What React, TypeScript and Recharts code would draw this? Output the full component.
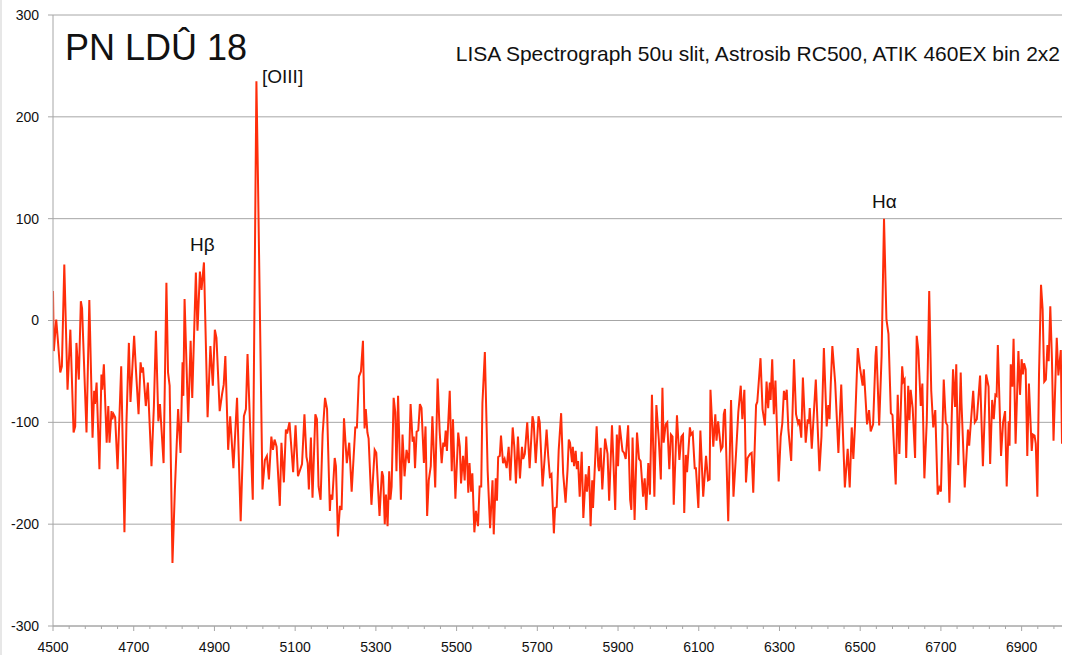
import React from "react";
import { LineChart, Line, XAxis, YAxis, CartesianGrid } from "recharts";

// wavelength (Angstrom) and relative flux
const wavelengths = [
  4500, 4502, 4508, 4512, 4518, 4522, 4528, 4536, 4543, 4551, 4555, 4558, 4564, 4569, 4572, 4583,
  4590, 4598, 4602, 4604, 4608, 4615, 4620, 4622, 4626, 4633, 4637, 4640, 4645, 4647, 4650, 4654,
  4660, 4669, 4677, 4682, 4688, 4692, 4696, 4701, 4705, 4712, 4717, 4720, 4723, 4730, 4735, 4744,
  4750, 4755, 4761, 4765, 4774, 4781, 4785, 4789, 4796, 4802, 4810, 4816, 4821, 4823, 4826, 4835,
  4841, 4845, 4854, 4858, 4864, 4868, 4874, 4883, 4890, 4896, 4901, 4905, 4913, 4919, 4923, 4927,
  4934, 4939, 4947, 4956, 4965, 4973, 4978, 4982, 4988, 4995, 5004, 5008, 5019, 5025, 5030, 5035,
  5041, 5045, 5049, 5054, 5062, 5066, 5072, 5077, 5080, 5086, 5095, 5101, 5107, 5117, 5123, 5128,
  5131, 5134, 5139, 5143, 5150, 5154, 5158, 5163, 5168, 5174, 5179, 5186, 5188, 5192, 5198, 5201,
  5206, 5211, 5215, 5221, 5228, 5234, 5240, 5249, 5253, 5258, 5263, 5268, 5272, 5275, 5279, 5282,
  5289, 5297, 5301, 5309, 5315, 5318, 5322, 5325, 5329, 5333, 5336, 5339, 5344, 5348, 5351, 5355,
  5362, 5366, 5371, 5376, 5382, 5386, 5391, 5394, 5397, 5401, 5405, 5409, 5413, 5419, 5423, 5427,
  5431, 5436, 5440, 5447, 5453, 5458, 5463, 5467, 5470, 5473, 5476, 5483, 5488, 5491, 5497, 5504,
  5508, 5511, 5516, 5520, 5524, 5529, 5532, 5536, 5539, 5544, 5548, 5553, 5557, 5561, 5564, 5570,
  5577, 5583, 5589, 5592, 5597, 5600, 5603, 5607, 5610, 5615, 5619, 5624, 5629, 5633, 5639, 5643,
  5647, 5652, 5657, 5662, 5665, 5669, 5675, 5681, 5688, 5691, 5696, 5703, 5706, 5713, 5718, 5723,
  5727, 5731, 5735, 5741, 5744, 5748, 5753, 5759, 5764, 5770, 5775, 5778, 5781, 5786, 5788, 5791,
  5795, 5798, 5801, 5805, 5810, 5814, 5820, 5823, 5828, 5832, 5836, 5838, 5847, 5851, 5853, 5857,
  5861, 5868, 5874, 5878, 5885, 5888, 5893, 5897, 5900, 5904, 5911, 5915, 5919, 5925, 5930, 5933,
  5936, 5941, 5947, 5952, 5956, 5962, 5966, 5970, 5975, 5979, 5984, 5990, 5995, 6001, 6006, 6010,
  6013, 6018, 6022, 6027, 6031, 6035, 6038, 6046, 6052, 6057, 6061, 6064, 6068, 6071, 6078, 6081,
  6085, 6090, 6093, 6099, 6104, 6111, 6118, 6123, 6127, 6129, 6136, 6141, 6144, 6148, 6155, 6159,
  6162, 6165, 6173, 6180, 6186, 6192, 6198, 6204, 6208, 6213, 6217, 6221, 6227, 6231, 6235, 6242,
  6245, 6253, 6258, 6264, 6268, 6272, 6276, 6278, 6282, 6286, 6290, 6298, 6303, 6307, 6311, 6314,
  6318, 6322, 6329, 6336, 6341, 6346, 6349, 6354, 6358, 6365, 6370, 6373, 6375, 6380, 6390, 6399,
  6404, 6410, 6417, 6421, 6424, 6427, 6431, 6438, 6446, 6453, 6462, 6469, 6474, 6479, 6483, 6487,
  6494, 6499, 6506, 6509, 6517, 6522, 6526, 6532, 6538, 6540, 6547, 6553, 6559, 6565, 6570, 6576,
  6580, 6588, 6593, 6597, 6604, 6607, 6610, 6614, 6619, 6622, 6625, 6630, 6636, 6640, 6644, 6650,
  6654, 6659, 6665, 6671, 6676, 6681, 6686, 6692, 6696, 6700, 6707, 6712, 6716, 6721, 6730, 6735,
  6738, 6743, 6749, 6751, 6759, 6767, 6770, 6780, 6784, 6789, 6797, 6804, 6812, 6818, 6822, 6827,
  6831, 6835, 6838, 6841, 6849, 6854, 6859, 6863, 6868, 6870, 6873, 6877, 6880, 6885, 6892, 6896,
  6900, 6903, 6906, 6910, 6914, 6918, 6925, 6928, 6932, 6935, 6939, 6943, 6948, 6952, 6956, 6960,
  6964, 6967, 6971, 6975, 6979, 6987, 6991, 6997, 7000,
];

const flux = [
  29, -30, 1, -19, -51, -45, 55, -68, -9, -110, -104, -22, -58, 19, 12, -110,
  20, -115, -69, -82, -61, -146, -53, -68, -43, -120, -84, -120, -89, -97, -92, -95,
  -146, -45, -208, -100, -22, -80, -51, -15, -45, -92, -41, -51, -46, -84, -61, -143,
  -84, -10, -99, -82, -140, 37, -51, -64, -238, -166, -87, -130, -41, -74, 21, -100,
  -20, -76, 47, -10, 48, 30, 57, -95, -25, -64, -9, -17, -89, -72, -63, -35,
  -127, -94, -145, -76, -197, -94, -87, -33, -100, -176, 235, 135, -166, -137, -133, -156,
  -114, -127, -117, -124, -182, -120, -159, -107, -111, -100, -149, -103, -153, -141, -92, -134,
  -140, -166, -115, -174, -92, -97, -163, -176, -112, -76, -87, -187, -171, -176, -135, -143,
  -212, -182, -186, -96, -140, -120, -168, -105, -105, -55, -50, -20, -106, -87, -110, -116,
  -181, -127, -130, -192, -148, -153, -200, -171, -202, -148, -176, -163, -76, -90, -148, -74,
  -176, -112, -153, -127, -140, -82, -119, -114, -145, -109, -108, -82, -86, -140, -104, -192,
  -157, -143, -94, -164, -57, -109, -140, -120, -124, -108, -128, -69, -148, -97, -175, -110,
  -124, -160, -133, -157, -114, -169, -140, -168, -150, -208, -187, -202, -163, -163, -81, -31,
  -148, -204, -157, -210, -155, -177, -134, -133, -113, -140, -136, -145, -124, -157, -105, -124,
  -160, -114, -155, -124, -136, -131, -100, -145, -94, -100, -140, -94, -100, -163, -136, -107,
  -133, -153, -151, -209, -184, -183, -127, -91, -150, -179, -146, -117, -120, -139, -124, -143,
  -128, -146, -138, -173, -129, -194, -151, -168, -143, -202, -157, -184, -104, -143, -148, -125,
  -166, -116, -131, -177, -103, -133, -186, -112, -143, -103, -128, -130, -136, -103, -176, -186,
  -115, -196, -110, -136, -138, -173, -155, -186, -140, -171, -73, -173, -83, -117, -156, -66,
  -120, -102, -100, -146, -112, -114, -181, -93, -137, -114, -112, -189, -132, -149, -105, -112,
  -110, -145, -145, -184, -108, -173, -133, -157, -156, -68, -124, -92, -118, -99, -127, -124,
  -92, -87, -197, -78, -173, -133, -90, -64, -97, -68, -159, -135, -131, -130, -169, -83,
  -80, -37, -87, -103, -60, -86, -61, -78, -38, -92, -59, -158, -114, -101, -69, -78,
  -68, -107, -138, -38, -92, -101, -97, -115, -56, -120, -97, -101, -86, -126, -58, -148,
  -114, -27, -104, -83, -97, -63, -25, -61, -130, -63, -164, -126, -164, -105, -136, -104,
  -27, -45, -64, -48, -102, -88, -109, -102, -35, -25, -103, -35, 100, 1, -13, -91,
  -93, -161, -73, -131, -45, -60, -58, -135, -64, -98, -68, -86, -135, -15, -29, -84,
  -62, -155, -98, 29, -69, -105, -88, -171, -164, -168, -58, -100, -103, -179, -48, -85,
  -43, -142, -51, -81, -164, -107, -123, -69, -100, -97, -54, -143, -53, -65, -141, -78,
  -97, -73, -74, -24, -133, -100, -89, -163, -99, -123, -43, -65, -18, -121, -30, -73,
  -38, -53, -42, -48, -133, -62, -128, -112, -113, -121, -173, -54, 35, 11, -60, -58,
  -24, -40, 14, -37, -118, -17, -54, -29, -121,
];

const yTicks = [-300, -200, -100, 0, 100, 200, 300];
const majorXTicks = [4500, 4700, 4900, 5100, 5300, 5500, 5700, 5900, 6100, 6300, 6500, 6700, 6900];
const minorStep = 40;
const xTicks = Array.from({ length: 63 }, (_, i) => 4500 + i * minorStep);

const data = wavelengths.map((w, i) => ({ w, f: flux[i] }));

const GREY = "#a6a6a6";
const FONT = "'Liberation Sans', Arial, sans-serif";

const XTick = (props: any) => {
  const { x, y, payload } = props;
  const isMajor = majorXTicks.includes(payload.value);
  return (
    <g>
      <line x1={x} x2={x} y1={y} y2={y + (isMajor ? 5 : 3)} stroke={GREY} />
      {isMajor && (
        <text x={x} y={y + 26} textAnchor="middle" fontSize={14} fill="#111" fontFamily={FONT}>
          {payload.value}
        </text>
      )}
    </g>
  );
};

export default function App() {
  return (
    <div style={{ position: "relative", width: 1074, height: 655, background: "#fff" }}>
      <style>{"body{margin:0}"}</style>
      <LineChart
        width={1074}
        height={655}
        data={data}
        margin={{ top: 15, right: 12, bottom: 0, left: 0 }}
      >
        <CartesianGrid vertical={false} stroke={GREY} strokeWidth={1} />
        <XAxis
          dataKey="w"
          type="number"
          domain={[4500, 7000]}
          ticks={xTicks}
          interval={0}
          height={29}
          tickSize={0}
          tickMargin={0}
          tickLine={false}
          axisLine={{ stroke: GREY }}
          tick={<XTick />}
          allowDataOverflow
        />
        <YAxis
          type="number"
          domain={[-300, 300]}
          ticks={yTicks}
          width={53}
          tickSize={5}
          tickMargin={9}
          axisLine={{ stroke: GREY }}
          tickLine={{ stroke: GREY }}
          tick={{ fontSize: 14, fill: "#111", fontFamily: FONT }}
        />
        <Line
          dataKey="f"
          type="linear"
          stroke="#ff2d0a"
          strokeWidth={2}
          dot={false}
          isAnimationActive={false}
        />
      </LineChart>
      <svg
        width={1074}
        height={655}
        style={{ position: "absolute", left: 0, top: 0, pointerEvents: "none" }}
        fontFamily={FONT}
      >
        <line x1={1} x2={1} y1={0} y2={655} stroke="#cfcfcf" />
        <text x={65} y={60} fontSize={36} fill="#111">PN LDÛ 18</text>
        <text x={1060} y={61} fontSize={21} fill="#111" textAnchor="end">
          LISA Spectrograph 50u slit, Astrosib RC500, ATIK 460EX bin 2x2
        </text>
        <text x={262} y={83} fontSize={19} fill="#111">[OIII]</text>
        <text x={190} y={251} fontSize={19} fill="#111">Hβ</text>
        <text x={872} y={208} fontSize={19} fill="#111">Hα</text>
      </svg>
    </div>
  );
}
